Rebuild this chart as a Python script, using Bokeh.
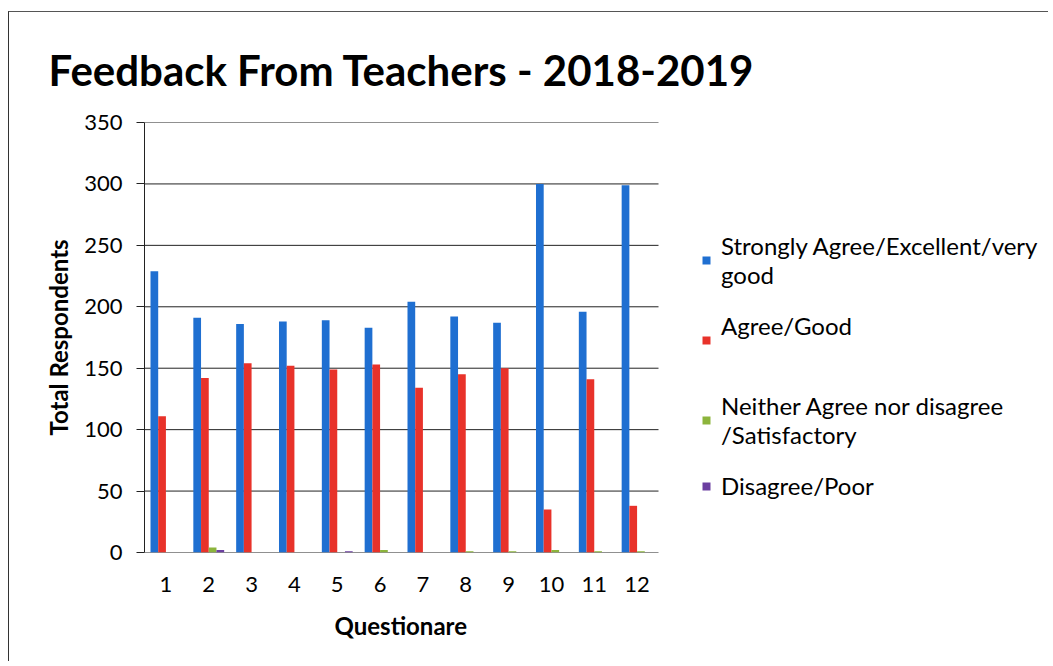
from bokeh.plotting import figure
from bokeh.models import ColumnDataSource, Range1d, Legend, LegendItem, FixedTicker, Title
from bokeh.transform import dodge
from bokeh.embed import file_html
from bokeh.resources import INLINE

questions = [1, 2, 3, 4, 5, 6, 7, 8, 9, 10, 11, 12]
strongly_agree = [229, 191, 186, 188, 189, 183, 204, 192, 187, 300, 196, 299]
agree = [111, 142, 154, 152, 149, 153, 134, 145, 150, 35, 141, 38]
neither = [0, 4, 0, 0, 0, 2, 0, 1, 1, 2, 1, 1]
disagree = [0, 2, 0, 0, 1, 0, 0, 0, 0, 0, 0, 0]

series_names = [
    "Strongly Agree/Excellent/very\ngood",
    "Agree/Good\n ",
    "Neither Agree nor disagree\n/Satisfactory",
    "Disagree/Poor",
]
y_ticks = [0, 50, 100, 150, 200, 250, 300, 350]

FONT = "Lato"

FIG_W, FIG_H = 1040, 650
LEFT, RIGHT, TOP, BOTTOM = 135, 5, 110, 110
CHART_W = 514  # pixel width of the bar area
frame_w = FIG_W - LEFT - RIGHT
x0 = questions[0] - 0.5
x1 = questions[-1] + 0.5
x_end = x0 + (x1 - x0) * frame_w / CHART_W

src = ColumnDataSource(dict(q=questions, sa=strongly_agree, ag=agree, ne=neither, di=disagree))

p = figure(width=FIG_W, height=FIG_H, output_backend="svg", toolbar_location=None,
           x_range=Range1d(x0, x_end), y_range=Range1d(0, 350),
           min_border_left=LEFT, min_border_right=RIGHT, min_border_top=TOP, min_border_bottom=BOTTOM,
           background_fill_color="white", border_fill_color="white",
           styles={"border-left": "1px solid #333", "border-top": "1px solid #555",
                   "margin-left": "8px", "margin-top": "11px"})
p.outline_line_color = None

# horizontal gridlines limited to the bar area
p.segment(x0=[x0] * len(y_ticks), x1=[x1] * len(y_ticks), y0=y_ticks, y1=y_ticks,
          line_color="#222", line_width=1)

w = 0.18
cols = ["sa", "ag", "ne", "di"]
colors = ["#1f6fd1", "#e8322a", "#8cb43c", "#6b3fa0"]
offsets = [-0.27, -0.09, 0.09, 0.27]
renderers = []
for c, col, off in zip(cols, colors, offsets):
    r = p.vbar(x=dodge("q", off, range=p.x_range), top=c, width=w, source=src,
               fill_color=col, line_color=None)
    renderers.append(r)

# title
t = Title(text="Feedback From Teachers - 2018-2019", text_font=FONT, text_font_size="42px",
          text_font_style="bold", text_color="black", align="left", offset=-96, standoff=56)
p.add_layout(t, "above")

# axes
p.yaxis.ticker = FixedTicker(ticks=y_ticks)
p.xaxis.ticker = FixedTicker(ticks=questions)
p.yaxis.minor_tick_line_color = None
p.xaxis.minor_tick_line_color = None
p.yaxis.major_tick_in = 0
p.yaxis.major_tick_out = 8
p.xaxis.major_tick_in = 0
p.xaxis.major_tick_out = 0
p.xaxis.axis_line_color = None
p.yaxis.axis_line_color = "#222"
p.axis.major_tick_line_color = "#222"
p.axis.major_label_text_font = FONT
p.axis.major_label_text_font_size = "22px"
p.axis.major_label_text_color = "black"
p.yaxis.major_label_standoff = 14
p.xaxis.major_label_standoff = 24
p.yaxis.axis_label = "Total Respondents"
p.yaxis.axis_label_text_font = FONT
p.yaxis.axis_label_text_font_size = "24px"
p.yaxis.axis_label_text_font_style = "bold"
p.yaxis.axis_label_text_color = "black"
p.yaxis.axis_label_standoff = 8

xt = Title(text="Questionare", text_font=FONT, text_font_size="24px", text_font_style="bold",
           text_color="black", align="left", offset=190, standoff=28)
p.add_layout(xt, "below")

p.xgrid.grid_line_color = None
p.ygrid.grid_line_color = None

legend = Legend(items=[LegendItem(label=n, renderers=[r]) for n, r in zip(series_names, renderers)],
                location=(CHART_W + 43, 52), margin=0, padding=0, spacing=22,
                glyph_width=10, glyph_height=10, label_standoff=10,
                label_text_font=FONT, label_text_font_size="24px", label_text_color="black",
                border_line_color=None, background_fill_alpha=0)
p.add_layout(legend, "center")

open("out.html", "w").write(file_html(p, INLINE))
